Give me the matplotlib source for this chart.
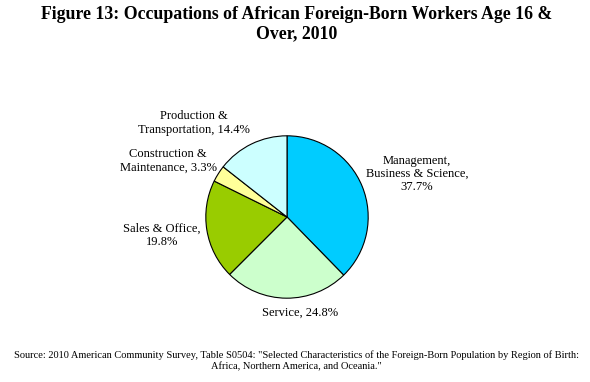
import matplotlib
matplotlib.use("Agg")
import matplotlib.pyplot as plt

categories = [
    "Management,\nBusiness & Science,\n37.7%",
    "Service, 24.8%",
    "Sales & Office,\n19.8%",
    "Construction &\nMaintenance, 3.3%",
    "Production &\nTransportation, 14.4%",
]
shares = [37.7, 24.8, 19.8, 3.3, 14.4]
colors = ["#00CCFF", "#CCFFCC", "#99CC00", "#FFFF99", "#CCFFFF"]

# label centres in pixels (x from left, y from top)
label_px = [(417, 174), (300, 313), (162, 235), (168, 161), (194, 123)]

plt.rcParams["font.family"] = ["Liberation Serif", "DejaVu Serif"]

W, H = 590, 382
fig = plt.figure(figsize=(W / 100, H / 100), dpi=100)

cx, cy, r = 287, 217, 82
ax = fig.add_axes([(cx - r) / W, (H - cy - r) / H, 2 * r / W, 2 * r / H])
ax.pie(shares, colors=colors, startangle=90, counterclock=False, radius=1,
       wedgeprops=dict(edgecolor="black", linewidth=0.8))
ax.set_xlim(-1.01, 1.01)
ax.set_ylim(-1.01, 1.01)
ax.set_aspect("equal")
ax.axis("off")

for lab, (x, y) in zip(categories, label_px):
    fig.text(x / W, 1 - y / H, lab, ha="center", va="center", fontsize=9,
             linespacing=1.15)

fig.text(297 / W, 1 - 24 / H,
         "Figure 13: Occupations of African Foreign-Born Workers Age 16 &\nOver, 2010",
         ha="center", va="center", fontsize=12.8, fontweight="bold", linespacing=1.2)

fig.text(296 / W, 1 - 361 / H,
         'Source: 2010 American Community Survey, Table S0504: "Selected Characteristics of the Foreign-Born Population by Region of Birth:\nAfrica, Northern America, and Oceania."',
         ha="center", va="center", fontsize=7.5, linespacing=1.3)

fig.savefig("out.png", dpi=100)
